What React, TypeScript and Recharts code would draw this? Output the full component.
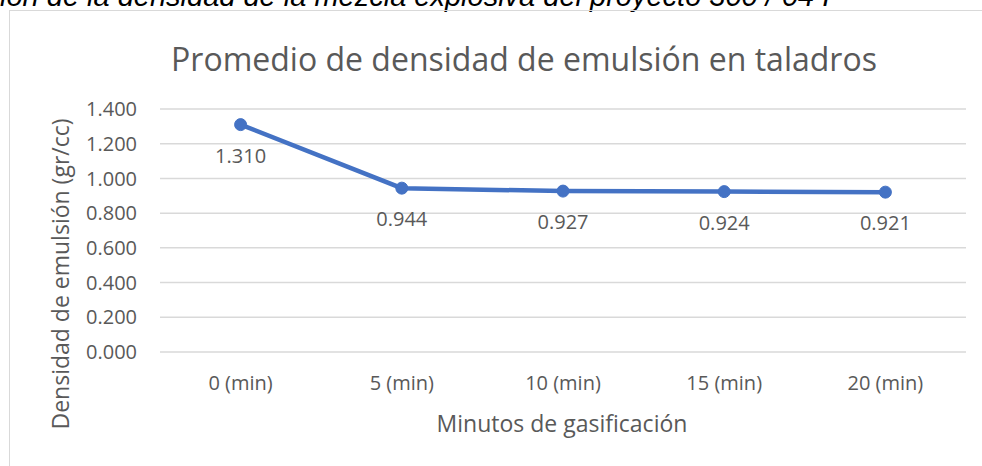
import React from 'react';
import {
	CartesianGrid,
	LabelList,
	Line,
	LineChart,
	XAxis,
	YAxis,
} from 'recharts';

const categories = ['0 (min)', '5 (min)', '10 (min)', '15 (min)', '20 (min)'];
const densities = [1.31, 0.944, 0.927, 0.924, 0.921];
const yTicks = [0, 0.2, 0.4, 0.6, 0.8, 1.0, 1.2, 1.4];

const data = categories.map((name, i) => ({ name, value: densities[i] }));

const FONT = "'Open Sans', 'Noto Sans', sans-serif";
const GREY = '#595959';

export default function App() {
	return (
		<div
			style={{
				position: 'absolute',
				left: 0,
				top: 0,
				width: 982,
				height: 466,
				overflow: 'hidden',
				background: '#fff',
				fontFamily: FONT,
			}}
		>
			{/* caption of the page, cut off at the top like in the source */}
			<div
				style={{
					position: 'absolute',
					left: 0,
					top: -20,
					whiteSpace: 'nowrap',
					fontFamily: "'Liberation Sans', Arial, sans-serif",
					fontStyle: 'italic',
					fontSize: 29,
					lineHeight: '33px',
					color: '#000',
				}}
			>
				ión de la densidad de la mezcla explosiva del proyecto 300 / 04 I
			</div>
			<div
				style={{
					position: 'absolute',
					left: 9,
					top: 10,
					width: 1100,
					height: 600,
					border: '1.5px solid #d9d9d9',
				}}
			/>
			<div
				style={{
					position: 'absolute',
					left: 0,
					top: 37,
					width: 1048,
					textAlign: 'center',
					fontSize: 32,
					color: GREY,
				}}
			>
				Promedio de densidad de emulsión en taladros
			</div>
			<div style={{ position: 'absolute', left: 0, top: 0 }}>
				<LineChart
					width={982}
					height={466}
					data={data}
					margin={{ top: 109, right: 16, left: 100, bottom: 0 }}
				>
					<CartesianGrid vertical={false} stroke='#d9d9d9' strokeWidth={1.5} />
					<XAxis
						dataKey='name'
						axisLine={false}
						tickLine={false}
						padding={{ left: 80.6, right: 80.6 }}
						tick={{ fill: GREY, fontSize: 20, fontFamily: FONT }}
						tickMargin={18}
						interval={0}
						height={114}
					/>
					<YAxis
						domain={[0, 1.4]}
						ticks={yTicks}
						interval={0}
						axisLine={false}
						tickLine={false}
						width={60}
						tickMargin={17}
						tickFormatter={(v: number) => v.toFixed(3)}
						tick={{ fill: GREY, fontSize: 20, fontFamily: FONT }}
					/>
					<Line
						type='linear'
						dataKey='value'
						stroke='#4472c4'
						strokeWidth={4.5}
						dot={{ r: 6, fill: '#4472c4', stroke: '#4472c4', strokeWidth: 1 }}
						activeDot={false}
						isAnimationActive={false}
					>
						<LabelList
							dataKey='value'
							position='bottom'
							offset={24}
							formatter={(v: number) => v.toFixed(3)}
							fill={GREY}
							fontSize={20}
							fontFamily={FONT}
						/>
					</Line>
				</LineChart>
			</div>
			<div
				style={{
					position: 'absolute',
					left: 562,
					top: 423,
					transform: 'translate(-50%, -50%)',
					whiteSpace: 'nowrap',
					fontSize: 23,
					color: GREY,
				}}
			>
				Minutos de gasificación
			</div>
			<div
				style={{
					position: 'absolute',
					left: 60,
					top: 274,
					transform: 'translate(-50%, -50%) rotate(-90deg)',
					whiteSpace: 'nowrap',
					fontSize: 23,
					color: GREY,
				}}
			>
				Densidad de emulsión (gr/cc)
			</div>
		</div>
	);
}
